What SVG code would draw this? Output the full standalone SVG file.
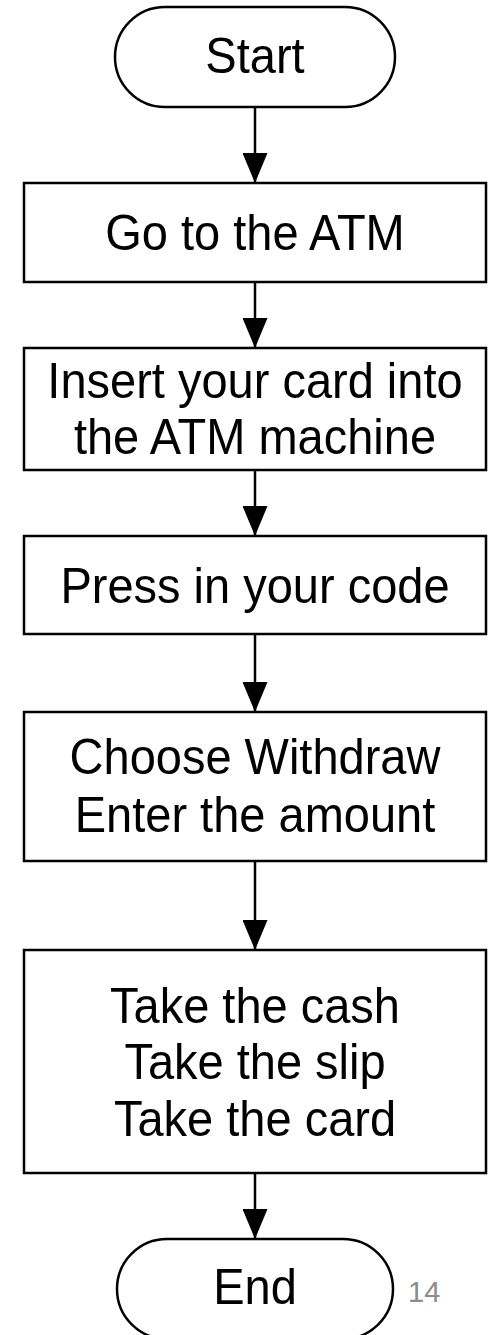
<svg xmlns="http://www.w3.org/2000/svg" width="489" height="1335" viewBox="0 0 489 1335">
  <style>
    .shape { fill: #ffffff; stroke: #000000; stroke-width: 2.5; }
    .label { font-family: "Liberation Sans", Arial, sans-serif; font-size: 47px; fill: #000000; text-anchor: middle; transform-box: fill-box; transform-origin: center; transform: scaleY(1.06); }
    .edge { stroke: #000000; stroke-width: 2.5; fill: none; marker-end: url(#arrow); }
    .pagenum { font-family: "Liberation Sans", Arial, sans-serif; font-size: 29px; fill: #8c8c8c; }
  </style>
  <defs>
    <!-- filled triangular arrowhead, tip at the end of the line -->
    <marker id="arrow" viewBox="0 0 30 25" markerWidth="30" markerHeight="25" refX="30" refY="12.5" orient="auto" markerUnits="userSpaceOnUse">
      <path d="M0,0 L30,12.5 L0,25 Z" fill="#000000"/>
    </marker>
  </defs>
  <rect width="489" height="1335" fill="#ffffff"/>

  <!-- connectors -->
  <g id="connectors">
    <line class="edge" x1="255" y1="107" x2="255" y2="183"/>
    <line class="edge" x1="255" y1="282" x2="255" y2="348"/>
    <line class="edge" x1="255" y1="470" x2="255" y2="536"/>
    <line class="edge" x1="255" y1="634" x2="255" y2="712"/>
    <line class="edge" x1="255" y1="861" x2="255" y2="950"/>
    <line class="edge" x1="255" y1="1173" x2="255" y2="1239"/>
  </g>

  <g id="start">
    <rect class="shape" x="115" y="7" width="280" height="100" rx="50" ry="50"/>
    <text class="label" x="255" y="72">Start</text>
  </g>

  <g id="go-to-atm">
    <rect class="shape" x="24" y="183" width="462" height="99"/>
    <text class="label" x="255" y="249">Go to the ATM</text>
  </g>

  <g id="insert-card">
    <rect class="shape" x="24" y="348" width="462" height="122"/>
    <text class="label" x="255" y="397">Insert your card into</text>
    <text class="label" x="255" y="453">the ATM machine</text>
  </g>

  <g id="press-code">
    <rect class="shape" x="24" y="536" width="462" height="98"/>
    <text class="label" x="255" y="602">Press in your code</text>
  </g>

  <g id="withdraw">
    <rect class="shape" x="24" y="712" width="462" height="149"/>
    <text class="label" x="255" y="773">Choose Withdraw</text>
    <text class="label" x="255" y="831">Enter the amount</text>
  </g>

  <g id="take-items">
    <rect class="shape" x="24" y="950" width="462" height="223"/>
    <text class="label" x="255" y="1022">Take the cash</text>
    <text class="label" x="255" y="1078">Take the slip</text>
    <text class="label" x="255" y="1135">Take the card</text>
  </g>

  <g id="end">
    <rect class="shape" x="117" y="1239" width="276" height="100" rx="50" ry="50"/>
    <text class="label" x="255" y="1303">End</text>
  </g>

  <text class="pagenum" x="408" y="1302">14</text>
</svg>
